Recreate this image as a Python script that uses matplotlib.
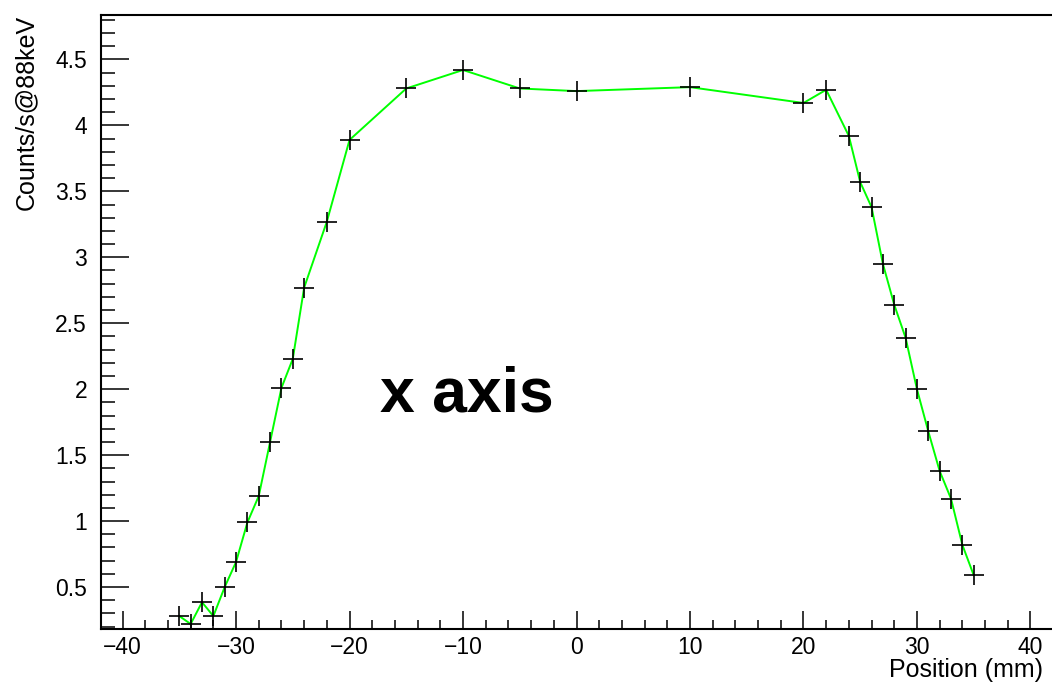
import numpy as np
import matplotlib
matplotlib.use("Agg")
import matplotlib.pyplot as plt
from matplotlib.ticker import MultipleLocator

plt.rcParams['font.family'] = ['Liberation Sans', 'DejaVu Sans']

# scan position (mm) and count rate at 88 keV
position = [-35, -34, -33, -32, -31, -30, -29, -28, -27, -26, -25, -24, -22, -20,
            -15, -10, -5, 0, 10, 20, 22, 24, 25, 26, 27, 28, 29, 30, 31, 32, 33, 34, 35]
counts = [0.28, 0.22, 0.385, 0.28, 0.50, 0.69, 0.99, 1.19, 1.60, 2.01, 2.23, 2.77, 3.27, 3.89,
          4.28, 4.42, 4.28, 4.26, 4.29, 4.17, 4.27, 3.92, 3.57, 3.38, 2.95, 2.64, 2.39,
          2.00, 1.68, 1.38, 1.17, 0.82, 0.59]

W, H = 1052, 686
fig = plt.figure(figsize=(W / 100, H / 100), dpi=100)
ax = fig.add_axes([101 / W, 1 - 629 / H, (W - 101) / W, (629 - 15) / H])

ax.plot(position, counts, color='#00ff00', lw=1.4, zorder=2)
ax.plot(position, counts, ls='none', marker='+', ms=15, mew=1.2, color='black', zorder=3)

ax.set_xlim(-41.9, 41.9)
ax.set_ylim(0.182, 4.837)

ax.xaxis.set_major_locator(MultipleLocator(10))
ax.xaxis.set_minor_locator(MultipleLocator(2))
ax.yaxis.set_major_locator(MultipleLocator(0.5))
ax.yaxis.set_minor_locator(MultipleLocator(0.1))
ax.yaxis.set_major_formatter(plt.FuncFormatter(lambda v, p: ('%g' % v)))

ax.tick_params(axis='x', which='major', direction='in', length=13, width=1.1, labelsize=16.5, pad=5)
ax.tick_params(axis='x', which='minor', direction='in', length=6.5, width=1.1)
ax.tick_params(axis='y', which='major', direction='in', length=20.5, width=1.1, labelsize=16.5, pad=10)
ax.tick_params(axis='y', which='minor', direction='in', length=10, width=1.1)
ax.tick_params(top=False, right=False, which='both')

for s in ['left', 'bottom', 'top']:
    ax.spines[s].set_linewidth(1.5)
ax.spines['right'].set_visible(False)

ax.set_xlabel('Position (mm)', fontsize=18, ha='right', va='center')
ax.xaxis.set_label_coords((1043 - 101) / (W - 101), (629 - 670) / (629 - 15))
ax.set_ylabel('Counts/s@88keV', fontsize=18, rotation=90, rotation_mode='default',
              ha='center', va='top')
ax.yaxis.set_label_coords((26 - 101) / (W - 101), 1.0)

ax.text(-17.3, 1.83, 'x axis', fontsize=45, fontweight='bold', ha='left', va='baseline')

fig.savefig('out.png', dpi=100)
